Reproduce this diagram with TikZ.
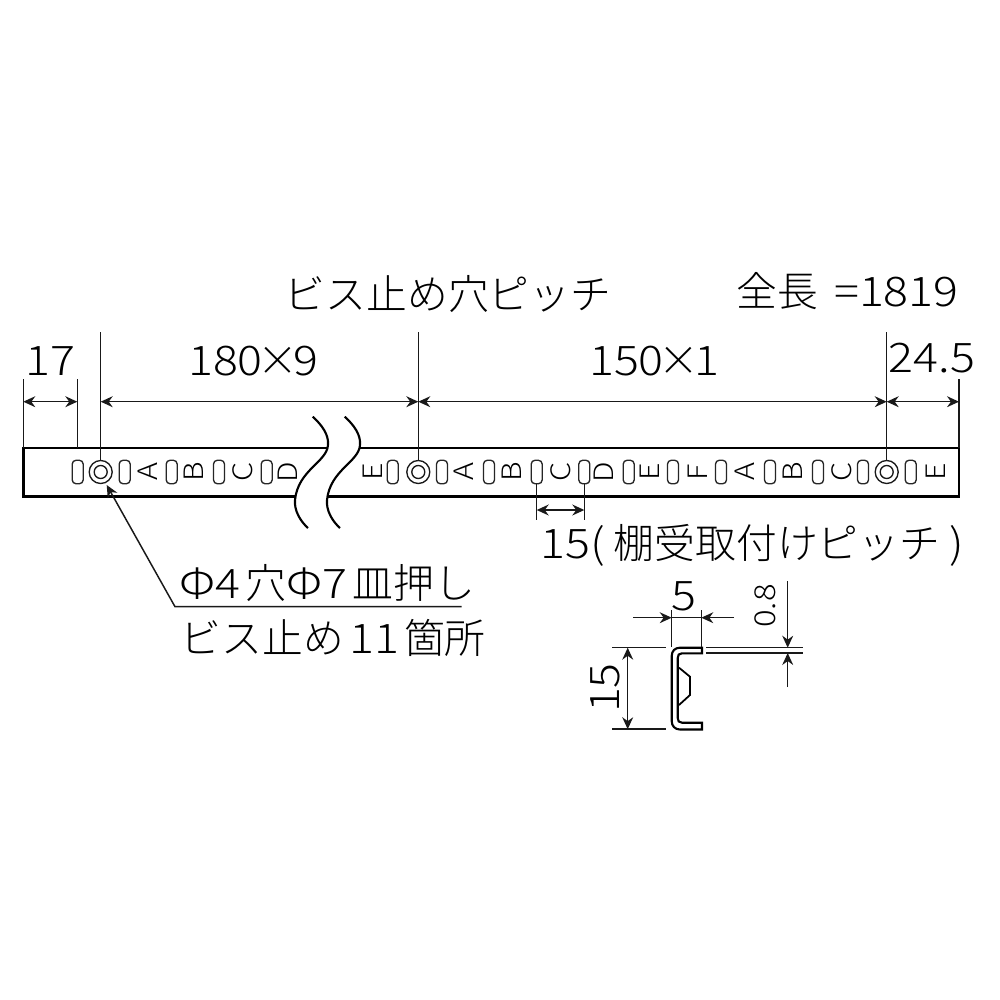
\documentclass[tikz,border=0pt]{standalone}
\usepackage{fontspec}
\setmainfont{Noto Sans CJK JP Light}[FakeStretch=1.14]
\newfontfamily\jp{Noto Sans CJK JP Light}
\usetikzlibrary{arrows.meta}
\newcommand{\tms}{\hspace{-1.5pt}{\jp ×}\hspace{-1.5pt}}
\tikzset{
  thinl/.style={line width=0.42pt,black!90},
  dimar/.style={thinl,{Stealth[length=3.4pt,width=3.1pt]}-{Stealth[length=3.4pt,width=3.1pt]}},
  onear/.style={thinl,-{Stealth[length=3.4pt,width=3.1pt]}},
  strip/.style={line width=0.75pt},
  wavel/.style={line width=0.6pt},
  slot/.style={draw,line width=0.38pt,black!85,rounded corners=1.1pt,minimum width=0.11cm,minimum height=0.235cm,inner sep=0pt},
  hole/.style={draw,circle,line width=0.38pt,black!90,inner sep=0pt},
  let/.style={font=\fontsize{7.6}{8}\selectfont,rotate=90,inner sep=0pt,text=black},
  lab/.style={font=\fontsize{11.6}{14}\selectfont,inner sep=0pt,text=black},
}
\begin{document}
\begin{tikzpicture}[x=0.01cm,y=-0.01cm]
\useasboundingbox (0,0) rectangle (1000,1000);
% strip
\draw[strip,fill=white] (23.5,448) rectangle (959,496.5);
% break
\fill[white] (312.7,416.7) .. controls (322,425) and (329,435) .. (328,445) .. controls (327,462) and (298,470) .. (295,500) .. controls (294,510) and (300,521) .. (308,528)
 -- (340,528) .. controls (332,521) and (326,510) .. (327,500) .. controls (330,470) and (359,462) .. (360,445) .. controls (361,435) and (354,425) .. (344.7,416.7) -- cycle;
\draw[wavel] (312.7,416.7) .. controls (322,425) and (329,435) .. (328,445) .. controls (327,462) and (298,470) .. (295,500) .. controls (294,510) and (300,521) .. (308,528);
\draw[wavel] (344.7,416.7) .. controls (354,425) and (361,435) .. (360,445) .. controls (359,462) and (330,470) .. (327,500) .. controls (326,510) and (332,521) .. (340,528);
% slots
\foreach \n/\x in {a/77.7,b/124.7,c/171.7,d/219,e/266.7,f/392.7,g/442,h/489,i/536.7,j/584.3,k/628.7,l/673,m/721,n/770,o/818,p/863,q/910.7}
  \node[slot] (s\n) at (\x,472) {};
% holes
\foreach \n/\x in {1/100.7,2/418.3,3/886.7}{
  \node[hole,minimum size=0.23cm] (h\n) at (\x,472) {};
  \node[hole,minimum size=0.13cm] (k\n) at (\x,472) {};
}
% letters
\foreach \n/\x/\t in {1/148/A,2/194/B,3/243/C,4/288/D,5/372.7/E,6/464/A,7/512/B,8/561/C,9/604/D,10/650/E,11/698/F,12/745/A,13/793/B,14/842/C,15/936/E}
  \node[let] (t\n) at (\x,472) {\t};
% extension lines
\coordinate (xa) at (23.3,379); \coordinate (xab) at (23.3,448);
\coordinate (xb) at (77.3,379); \coordinate (xbb) at (77.3,448);
\coordinate (xc) at (100.7,332);
\coordinate (xd) at (418.3,332);
\coordinate (xe) at (886.7,332);
\coordinate (xf) at (959,379); \coordinate (xfb) at (959,448);
\draw[thinl] (xa)--(xab) (xb)--(xbb) (xf)--(xfb);
\draw[thinl] (xc)--(h1.north) (xd)--(h2.north) (xe)--(h3.north);
% dimension lines
\draw[dimar] (23.3,401.7)--(77.3,401.7);
\draw[dimar] (100.7,401.7)--(418.3,401.7);
\draw[dimar] (418.3,401.7)--(886.7,401.7);
\draw[dimar] (886.7,401.7)--(959,401.7);
% labels top
\node[lab] (l1) at (448,294) {\jp ビス止め穴ピッチ};
\node[lab,anchor=west] (l2) at (736,291) {\jp 全長\hspace{4.5pt}{\rmfamily =1819}};
\node[lab] (l3) at (50,361) {17};
\node[lab] (l4) at (253,361) {180\tms 9};
\node[lab] (l5) at (654,361) {150\tms 1};
\node[lab] (l6) at (932,358) {24.5};
% pitch
\coordinate (pa) at (536.7,520); \coordinate (pb) at (584.3,520);
\draw[thinl] (si.south)--(pa) (sj.south)--(pb);
\draw[dimar] (536.7,510)--(584.3,510);
\node[lab,anchor=west] (l7) at (540,545) {15(\hspace{2.5pt}{\jp 棚受取付けピッチ}\hspace{2.5pt})};
% leader
\coordinate (la) at (461.7,606.7); \coordinate (lb) at (175,606.7); \coordinate (lc) at (106.7,485);
\draw[onear] (la)--(lb)--(lc);
\node[lab,anchor=west] (l8) at (179,583) {Φ4\hspace{1.5pt}{\jp 穴}Φ7\hspace{1.5pt}{\jp 皿押し}};
\node[lab,anchor=west] (l9) at (180,638) {\jp ビス止め\hspace{1.5pt}{\rmfamily 11}\hspace{1.5pt}箇所};
% section
\draw[line width=0.6pt,fill=white] (702,647.7) -- (680,647.7) .. controls (675,647.7) and (671.7,651) .. (671.7,656) -- (671.7,721) .. controls (671.7,726) and (675,729.5) .. (680,729.5) -- (702,729.5) -- (702,722.7) -- (682,722.7) .. controls (679,722.7) and (677.7,721) .. (677.7,718) -- (677.7,658) .. controls (677.7,655) and (679,653.3) .. (682,653.3) -- (702,653.3) -- cycle;
\draw[line width=0.5pt] (679,667.7) -- (690,676.7) -- (690,695) -- (679,705);
% section dims
\coordinate (e1) at (671.7,610); \coordinate (e2) at (671.7,647);
\coordinate (e3) at (701.3,610); \coordinate (e4) at (701.3,647);
\draw[thinl] (e1)--(e2) (e3)--(e4);
\draw[onear] (633,617.7)--(671.7,617.7);
\draw[onear] (734,617.7)--(701.3,617.7);
\draw[thinl] (671.7,617.7)--(701.3,617.7);
\node[lab] (l10) at (684,596) {5};
\coordinate (e5) at (612,647.7); \coordinate (e6) at (666,647.7);
\coordinate (e7) at (612,729.2); \coordinate (e8) at (666,729.2);
\draw[thinl] (e5)--(e6) (e7)--(e8);
\draw[dimar] (627.7,647.7)--(627.7,729.2);
\node[lab,rotate=90] (l11) at (605,688) {15};
\coordinate (e9) at (706,647.7); \coordinate (e10) at (802.7,647.7);
\coordinate (e11) at (706,653); \coordinate (e12) at (802.7,653);
\draw[thinl] (e9)--(e10) (e11)--(e12);
\draw[onear] (787.7,581)--(787.7,647.7);
\draw[onear] (787.7,687)--(787.7,653);
\node[lab,rotate=90,font=\fontsize{8.2}{10}\selectfont] (l12) at (765,606) {0.8};
\end{tikzpicture}
\end{document}
